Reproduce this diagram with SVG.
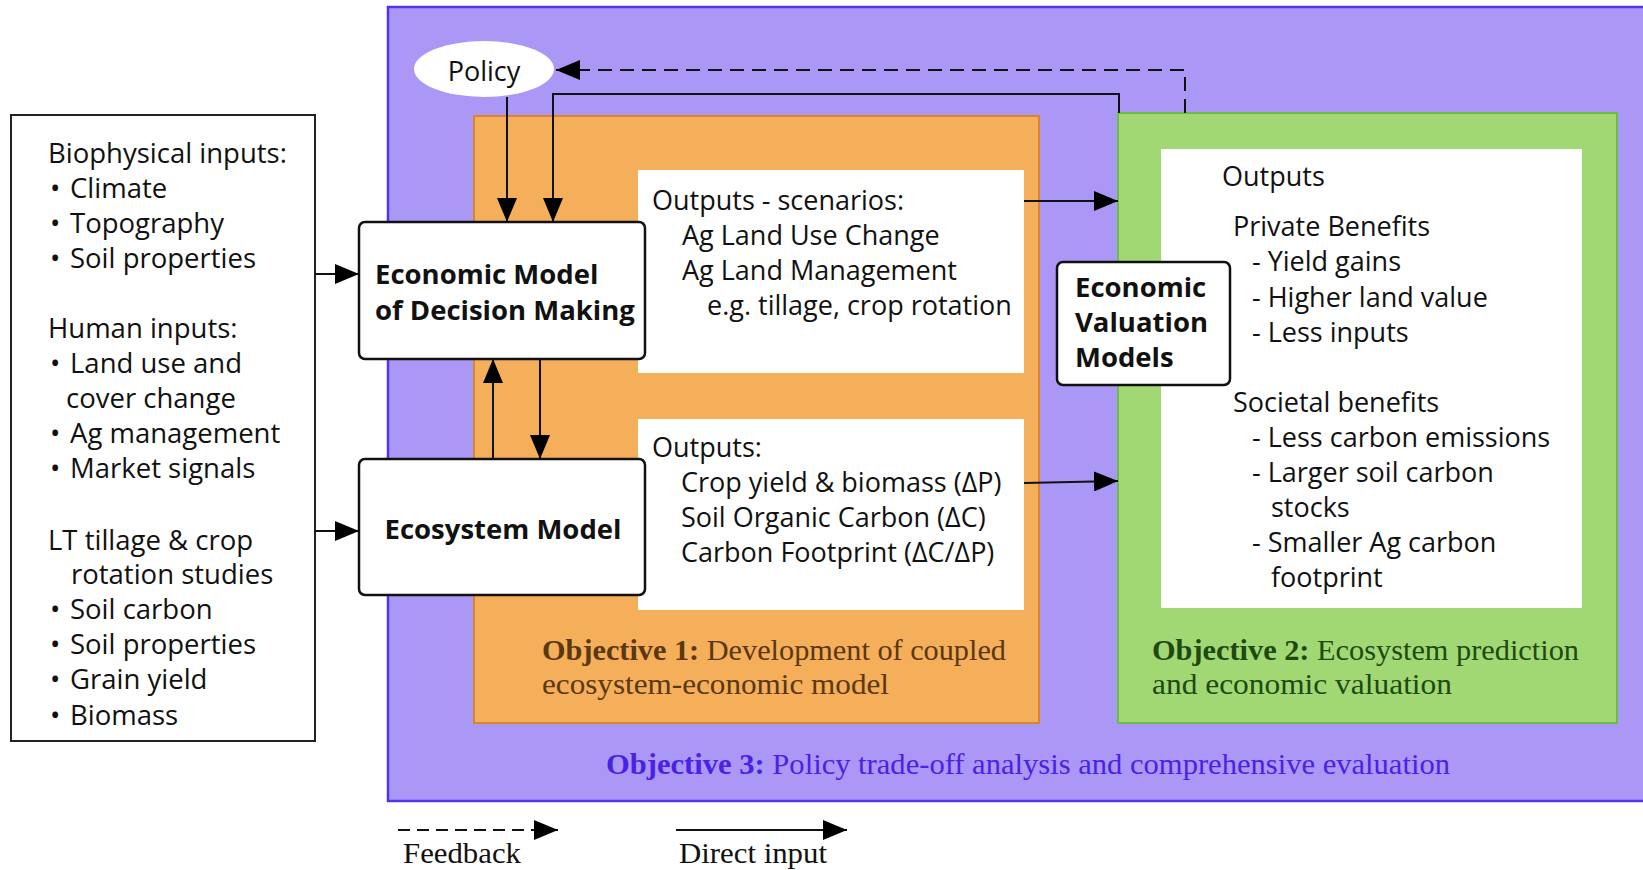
<svg xmlns="http://www.w3.org/2000/svg" width="1643" height="870" viewBox="0 0 1643 870">
<style>
.t{font-family:"Open Sans","Noto Sans",sans-serif;font-size:27px;fill:#111}
.l{font-family:"Open Sans","Noto Sans",sans-serif;font-size:27.5px;fill:#111}
.b{font-family:"Open Sans","Noto Sans",sans-serif;font-size:27.5px;font-weight:bold;fill:#111}
.s{font-family:"Liberation Serif","DejaVu Serif",serif;font-size:30px}
.node{fill:#fff;stroke:#111;stroke-width:2.5}
.c{fill:none;stroke:#111;stroke-width:2}
</style>
<defs>
<marker id="ah" markerUnits="userSpaceOnUse" markerWidth="24" markerHeight="20" refX="24" refY="10" orient="auto">
<path d="M0,0 L24,10 L0,20 z" fill="#000"/>
</marker>
</defs>
<rect width="1643" height="870" fill="#fff"/>
<g id="objective3">
<rect x="388" y="7" width="1270" height="794" fill="#ab97f5" stroke="#5533ee" stroke-width="2.5"/>
<text class="s" x="606" y="774" fill="#4a22e6" textLength="844" lengthAdjust="spacingAndGlyphs"><tspan font-weight="bold">Objective 3:</tspan> Policy trade-off analysis and comprehensive evaluation</text>
</g>
<g id="objective1">
<rect x="474" y="116" width="565" height="607" fill="#f5ae5a" stroke="#d9852c" stroke-width="2"/>
<text class="s" x="542" y="660" fill="#5a3810" textLength="464" lengthAdjust="spacingAndGlyphs"><tspan font-weight="bold">Objective 1:</tspan> Development of coupled</text>
<text class="s" x="542" y="694" fill="#5a3810" textLength="347" lengthAdjust="spacingAndGlyphs">ecosystem-economic model</text>
</g>
<g id="objective2">
<rect x="1118" y="113" width="499" height="610" fill="#a1d873" stroke="#6bbd45" stroke-width="2"/>
<text class="s" x="1152" y="660" fill="#1e4a10" textLength="427" lengthAdjust="spacingAndGlyphs"><tspan font-weight="bold">Objective 2:</tspan> Ecosystem prediction</text>
<text class="s" x="1152" y="694" fill="#1e4a10" textLength="300" lengthAdjust="spacingAndGlyphs">and economic valuation</text>
</g>
<g id="inputs">
<rect x="11" y="115" width="304" height="626" fill="#fff" stroke="#222" stroke-width="2"/>
<text class="l" x="48" y="163">Biophysical inputs:</text>
<text class="l" x="50" y="198">•</text><text class="l" x="70" y="198">Climate</text>
<text class="l" x="50" y="233">•</text><text class="l" x="70" y="233">Topography</text>
<text class="l" x="50" y="268">•</text><text class="l" x="70" y="268">Soil properties</text>
<text class="l" x="48" y="338">Human inputs:</text>
<text class="l" x="50" y="373">•</text><text class="l" x="70" y="373">Land use and</text>
<text class="l" x="66" y="408">cover change</text>
<text class="l" x="50" y="443">•</text><text class="l" x="70" y="443">Ag management</text>
<text class="l" x="50" y="478">•</text><text class="l" x="70" y="478">Market signals</text>
<text class="l" x="48" y="550">LT tillage &amp; crop</text>
<text class="l" x="71" y="584">rotation studies</text>
<text class="l" x="50" y="619">•</text><text class="l" x="70" y="619">Soil carbon</text>
<text class="l" x="50" y="654">•</text><text class="l" x="70" y="654">Soil properties</text>
<text class="l" x="50" y="689">•</text><text class="l" x="70" y="689">Grain yield</text>
<text class="l" x="50" y="725">•</text><text class="l" x="70" y="725">Biomass</text>
</g>
<g id="policy">
<ellipse cx="484" cy="69" rx="70" ry="28" fill="#fff"/>
<text class="t" x="484" y="81" text-anchor="middle" font-size="35">Policy</text>
</g>
<g id="scenarios">
<rect x="638" y="170" width="386" height="203" fill="#fff"/>
<text class="t" x="652" y="210">Outputs - scenarios:</text>
<text class="t" x="682" y="245">Ag Land Use Change</text>
<text class="t" x="682" y="280">Ag Land Management</text>
<text class="t" x="707" y="315">e.g. tillage, crop rotation</text>
</g>
<g id="ecooutputs">
<rect x="638" y="419" width="386" height="191" fill="#fff"/>
<text class="t" x="652" y="457">Outputs:</text>
<text class="t" x="681" y="492">Crop yield &amp; biomass (ΔP)</text>
<text class="t" x="681" y="527">Soil Organic Carbon (ΔC)</text>
<text class="t" x="681" y="562">Carbon Footprint (ΔC/ΔP)</text>
</g>
<g id="benefits">
<rect x="1161" y="149" width="421" height="459" fill="#fff"/>
<text class="t" x="1222" y="186">Outputs</text>
<text class="t" x="1233" y="236">Private Benefits</text>
<text class="t" x="1252" y="271">- Yield gains</text>
<text class="t" x="1252" y="307">- Higher land value</text>
<text class="t" x="1252" y="342">- Less inputs</text>
<text class="t" x="1233" y="412">Societal benefits</text>
<text class="t" x="1252" y="447">- Less carbon emissions</text>
<text class="t" x="1252" y="482">- Larger soil carbon</text>
<text class="t" x="1271" y="517">stocks</text>
<text class="t" x="1252" y="552">- Smaller Ag carbon</text>
<text class="t" x="1271" y="587">footprint</text>
</g>
<g id="economic">
<rect class="node" x="359" y="222" width="286" height="137" rx="6"/>
<text class="b" x="375" y="284">Economic Model</text>
<text class="b" x="375" y="320">of Decision Making</text>
</g>
<g id="ecosystem">
<rect class="node" x="359" y="459" width="286" height="136" rx="6"/>
<text class="b" x="503" y="539" text-anchor="middle">Ecosystem Model</text>
</g>
<g id="valuation">
<rect class="node" x="1057" y="262" width="173" height="123" rx="6"/>
<text class="b" x="1075" y="297">Economic</text>
<text class="b" x="1075" y="332">Valuation</text>
<text class="b" x="1075" y="367">Models</text>
</g>
<g id="connectors">
<path class="c" d="M507,97 V222" marker-end="url(#ah)"/>
<path class="c" d="M1119,113 V94 H553 V222" marker-end="url(#ah)"/>
<path class="c" d="M1185,113 V70 H556" stroke="#444" stroke-dasharray="14 8" marker-end="url(#ah)"/>
<path class="c" d="M1024,201 H1118" marker-end="url(#ah)"/>
<path class="c" d="M1024,483 L1118,481" marker-end="url(#ah)"/>
<path class="c" d="M315,274 H359" marker-end="url(#ah)"/>
<path class="c" d="M315,531 H359" marker-end="url(#ah)"/>
<path class="c" d="M540,359 V459" marker-end="url(#ah)"/>
<path class="c" d="M493,459 V359" marker-end="url(#ah)"/>
</g>
<g id="legend">
<path class="c" d="M398,830 H558" stroke="#444" stroke-dasharray="12 7" marker-end="url(#ah)"/>
<path class="c" d="M676,830 H847" marker-end="url(#ah)"/>
<text class="s" x="403" y="863" fill="#111" textLength="118" lengthAdjust="spacingAndGlyphs">Feedback</text>
<text class="s" x="679" y="863" fill="#111" textLength="148" lengthAdjust="spacingAndGlyphs">Direct input</text>
</g>
</svg>
